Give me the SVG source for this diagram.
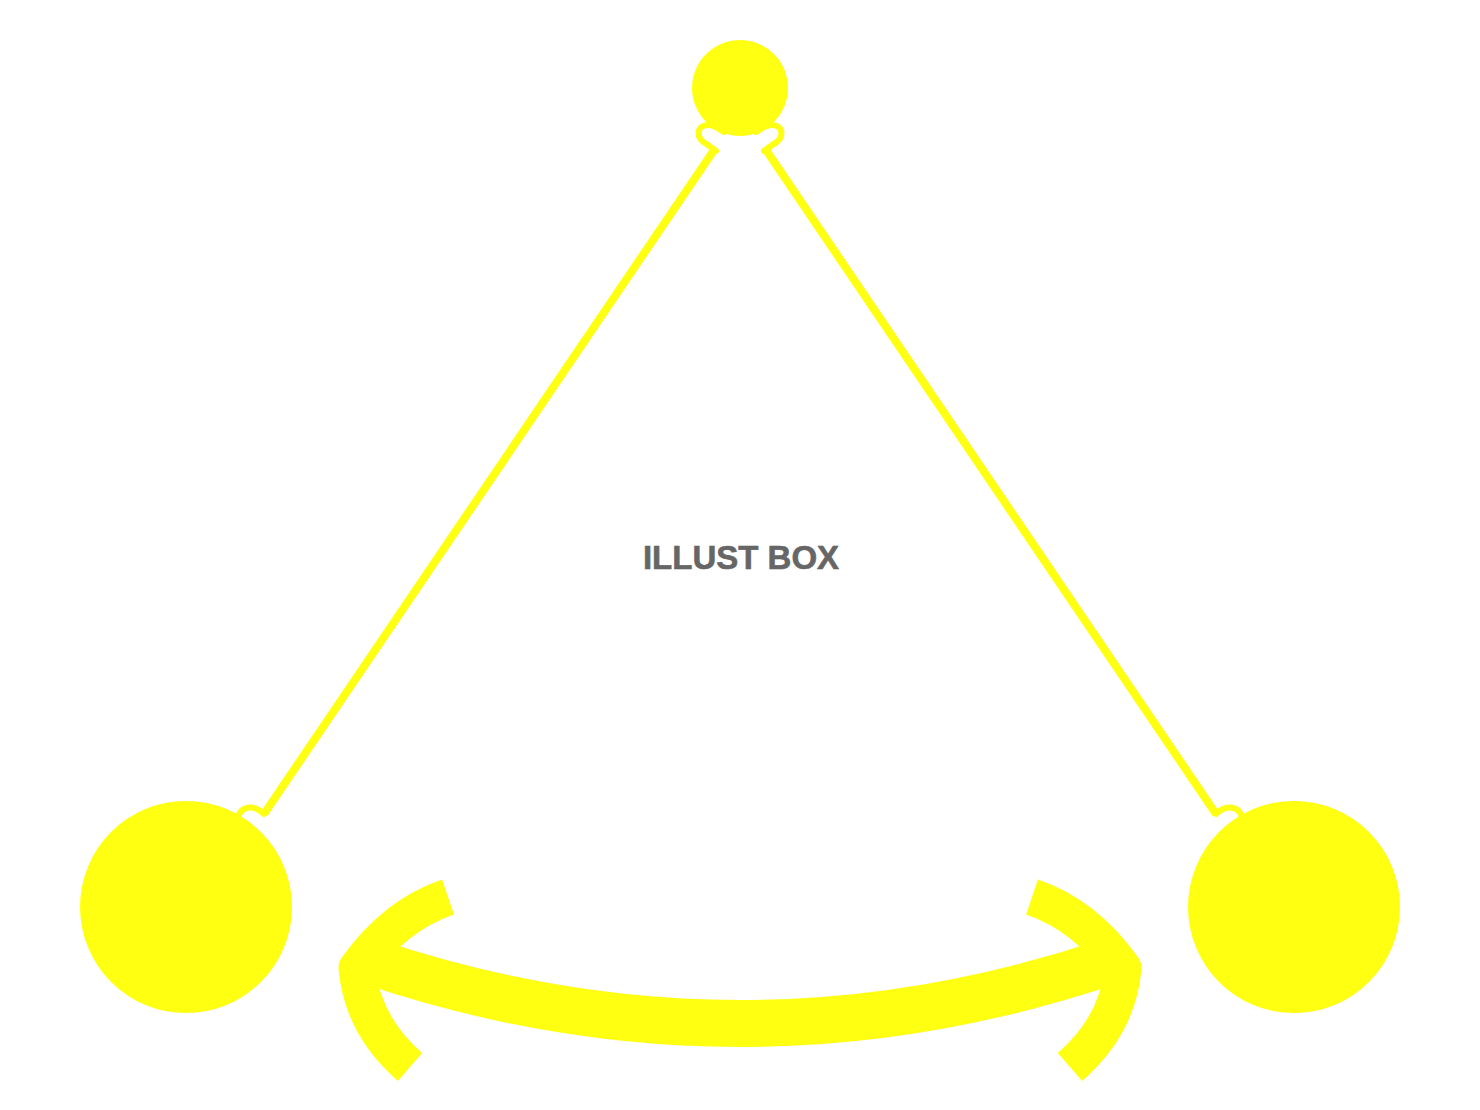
<svg xmlns="http://www.w3.org/2000/svg" width="1480" height="1110" viewBox="0 0 1480 1110">
<style>
.y{fill:#ffff11}
.str{fill:none;stroke:#ffff11;stroke-width:8}
.ring{fill:none;stroke:#ffff11;stroke-width:6;stroke-linecap:round}
.band{fill:none;stroke:#ffff11;stroke-width:47}
.arm{fill:none;stroke:#ffff11;stroke-width:37;stroke-linejoin:round}
.t{font-family:"Liberation Sans",Arial,sans-serif;font-weight:bold;font-size:33px;fill:#666666;stroke:#666666;stroke-width:0.6}
</style>
<rect width="1480" height="1110" fill="#ffffff"/>
<g id="strings">
<line class="str" x1="714" y1="150" x2="264" y2="814"/>
<line class="str" x1="766" y1="150" x2="1216" y2="814"/>
</g>
<g id="top-ball">
<circle class="y" cx="740" cy="88" r="48"/>
<path class="ring" d="M716 151 L708 145 C694 138 697 125 708 125 C715 125 719 129 724 132"/>
<path class="ring" d="M764 151 L772 145 C786 138 783 125 772 125 C765 125 761 129 756 132"/>
</g>
<g id="left-ball">
<circle class="y" cx="186" cy="907" r="106"/>
<path class="ring" d="M238 818 C240 807 253 803 264 814"/>
</g>
<g id="right-ball">
<circle class="y" cx="1294" cy="907" r="106"/>
<path class="ring" d="M1242 818 C1240 807 1227 803 1216 814"/>
</g>
<g id="arrow">
<path class="band" d="M372 962 Q 740 1085 1108 962"/>
<path class="arm" d="M448 897 Q 395 915 357 968 Q 362 1025 410 1067"/>
<path class="arm" d="M1032 897 Q 1085 915 1123 968 Q 1118 1025 1070 1067"/>
</g>
<text class="t" x="741" y="569" text-anchor="middle">ILLUST BOX</text>
</svg>
